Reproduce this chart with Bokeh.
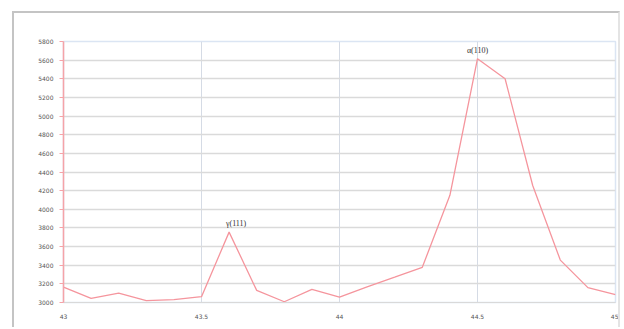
from bokeh.plotting import figure
from bokeh.models import ColumnDataSource, FixedTicker, LabelSet
from bokeh.embed import file_html
from bokeh.resources import INLINE

# 2-theta positions (degrees) and measured intensity counts
two_theta = [43.0, 43.1, 43.2, 43.3, 43.4, 43.5, 43.6, 43.7, 43.8, 43.9, 44.0,
             44.1, 44.2, 44.3, 44.4, 44.5, 44.6, 44.7, 44.8, 44.9, 45.0]
intensity = [3165, 3045, 3100, 3020, 3030, 3062, 3755, 3130, 3008, 3140, 3058,
             3168, 3272, 3378, 4150, 5615, 5400, 4255, 3455, 3160, 3085]

# peak annotations
peak_x = [43.6, 44.5]
peak_y = [3755, 5615]
peak_names = ["γ(111)", "α(110)"]
peak_dx = [7, 0]

x_ticks = [43.0, 43.5, 44.0, 44.5, 45.0]
x_tick_labels = {43.0: "43", 43.5: "43.5", 44.0: "44", 44.5: "44.5", 45.0: "45"}
y_ticks = list(range(3000, 5801, 200))

# the chart sits inside a framed area offset from the page corner
p = figure(width=608, height=316, output_backend="svg", toolbar_location=None,
           x_range=(43.0, 45.0), y_range=(3000, 5800),
           min_border_left=49, min_border_right=7, min_border_top=28, min_border_bottom=27)
p.margin = (11, 0, 0, 12)
p.styles = {"border-top": "2px solid #c4c4c4", "border-left": "2px solid #c4c4c4",
            "border-right": "2px solid #e4e4e4"}
p.background_fill_color = "white"
p.border_fill_color = "white"
p.outline_line_color = "#dbe5f3"
p.outline_line_width = 1.5

p.xaxis.ticker = FixedTicker(ticks=x_ticks)
p.xaxis.major_label_overrides = x_tick_labels
p.yaxis.ticker = FixedTicker(ticks=y_ticks)

for ax in (p.xaxis[0], p.yaxis[0]):
    ax.major_label_text_font = "DejaVu Sans"
    ax.major_label_text_font_size = "6px"
    ax.major_label_text_color = "#555555"
    ax.minor_tick_line_color = None
    ax.major_tick_in = 0

p.yaxis.axis_line_color = "#f5a3a8"
p.yaxis.axis_line_width = 1.5
p.yaxis.major_tick_line_color = "#f5a3a8"
p.yaxis.major_tick_out = 4
p.yaxis.major_label_standoff = 6
p.xaxis.axis_line_color = "#d9d9d9"
p.xaxis.major_tick_line_color = None
p.xaxis.major_label_standoff = 5

p.ygrid.ticker = FixedTicker(ticks=y_ticks)
p.ygrid.grid_line_color = "#dadada"
p.ygrid.grid_line_width = 1.5
p.xgrid.ticker = FixedTicker(ticks=[43.5, 44.0, 44.5])
p.xgrid.grid_line_color = "#d5dbe5"
p.xgrid.grid_line_width = 1

src = ColumnDataSource(dict(x=two_theta, y=intensity))
p.line("x", "y", source=src, line_color="#f5959d", line_width=1.3)

lab = ColumnDataSource(dict(x=peak_x, y=peak_y, t=peak_names, dx=peak_dx))
p.add_layout(LabelSet(x="x", y="y", text="t", source=lab, x_offset="dx", y_offset=4,
                      text_align="center", text_baseline="bottom",
                      text_font_size="8px", text_color="#333333", text_font="DejaVu Sans"))

open("out.html", "w").write(file_html(p, INLINE))
